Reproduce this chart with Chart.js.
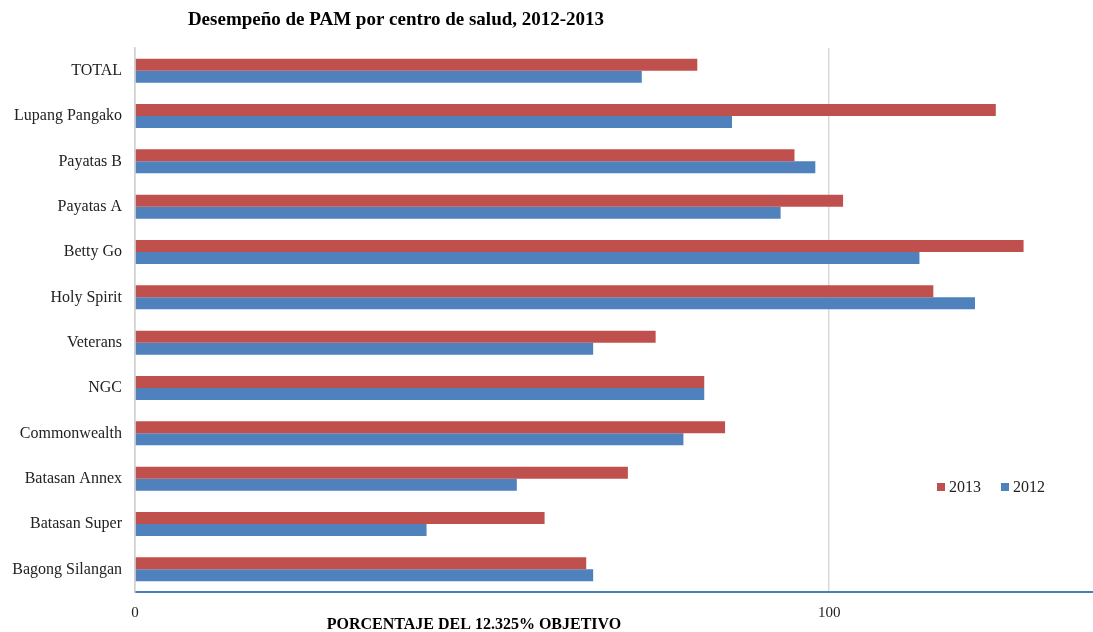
<!DOCTYPE html>
<html>
<head>
<meta charset="utf-8">
<script src="https://cdn.jsdelivr.net/npm/chart.js@4/dist/chart.umd.min.js"></script>
<style>
  html, body { margin: 0; padding: 0; background: #fff; }
  #wrap { width: 1093px; height: 632px; position: relative; }
</style>
</head>
<body>
<div id="wrap"><canvas id="grafico"></canvas></div>
<script>
const centros = [
  'TOTAL', 'Lupang Pangako', 'Payatas B', 'Payatas A', 'Betty Go', 'Holy Spirit',
  'Veterans', 'NGC', 'Commonwealth', 'Batasan Annex', 'Batasan Super', 'Bagong Silangan'
];
const valores2013 = [81, 124, 95, 102, 128, 115, 75, 82, 85, 71, 59, 65];
const valores2012 = [73, 86, 98, 93, 113, 121, 66, 82, 79, 55, 42, 66];
const ticksX = [0, 100];

const titulo = 'Desempeño de PAM por centro de salud, 2012-2013';
const tituloEje = 'PORCENTAJE DEL 12.325% OBJETIVO';
const serif = '"Liberation Serif", "Times New Roman", serif';

// titles and legend sit off-centre in the original, so they are drawn by hand
const textosPlugin = {
  id: 'textos',
  afterDraw(chart) {
    const ctx = chart.ctx;
    ctx.save();
    ctx.fillStyle = '#000';
    ctx.textAlign = 'center';
    ctx.textBaseline = 'middle';
    ctx.font = 'bold 19px ' + serif;
    ctx.fillText(titulo, 396, 20);
    ctx.font = 'bold 16px ' + serif;
    ctx.fillText(tituloEje, 474, 625);

    // legend
    ctx.font = '16px ' + serif;
    ctx.textAlign = 'left';
    let x = 937;
    const y = 487;
    chart.data.datasets.forEach((ds) => {
      ctx.fillStyle = ds.backgroundColor;
      ctx.fillRect(x, y - 4, 8, 8);
      ctx.fillStyle = '#222';
      ctx.fillText(ds.label, x + 12, y + 1);
      x += 12 + ctx.measureText(ds.label).width + 20;
    });
    ctx.restore();
  }
};

const data = {
  labels: centros,
  datasets: [
    {
      label: '2013',
      data: valores2013,
      backgroundColor: '#c0504d',
      categoryPercentage: 0.53,
      barPercentage: 1,
    },
    {
      label: '2012',
      data: valores2012,
      backgroundColor: '#4f81bd',
      categoryPercentage: 0.53,
      barPercentage: 1,
    },
  ],
};

const config = {
  type: 'bar',
  data: data,
  options: {
    indexAxis: 'y',
    responsive: false,
    animation: false,
    layout: { padding: { top: 48, right: 0, bottom: 0, left: 0 } },
    plugins: {
      legend: { display: false },
      title: { display: false },
      tooltip: { enabled: false },
    },
    scales: {
      x: {
        min: 0,
        max: 138,
        afterBuildTicks(scale) {
          scale.ticks = ticksX.map((v) => ({ value: v }));
        },
        afterFit(scale) { scale.height = 40; },
        grid: { color: '#d9d9d9', lineWidth: 1.5, drawTicks: false },
        border: { color: '#4a7ebb', width: 2 },
        ticks: {
          padding: 12,
          color: '#222',
          font: { family: serif, size: 15 },
        },
      },
      y: {
        afterFit(scale) { scale.width = 135; },
        grid: { display: false, drawTicks: false },
        border: { color: '#d0d0d0', width: 1.5 },
        ticks: {
          padding: 13,
          color: '#222',
          font: { family: serif, size: 16 },
        },
      },
    },
  },
  plugins: [textosPlugin],
};

const canvas = document.getElementById('grafico');
canvas.width = 1093;
canvas.height = 632;
new Chart(canvas, config);
</script>
</body>
</html>
